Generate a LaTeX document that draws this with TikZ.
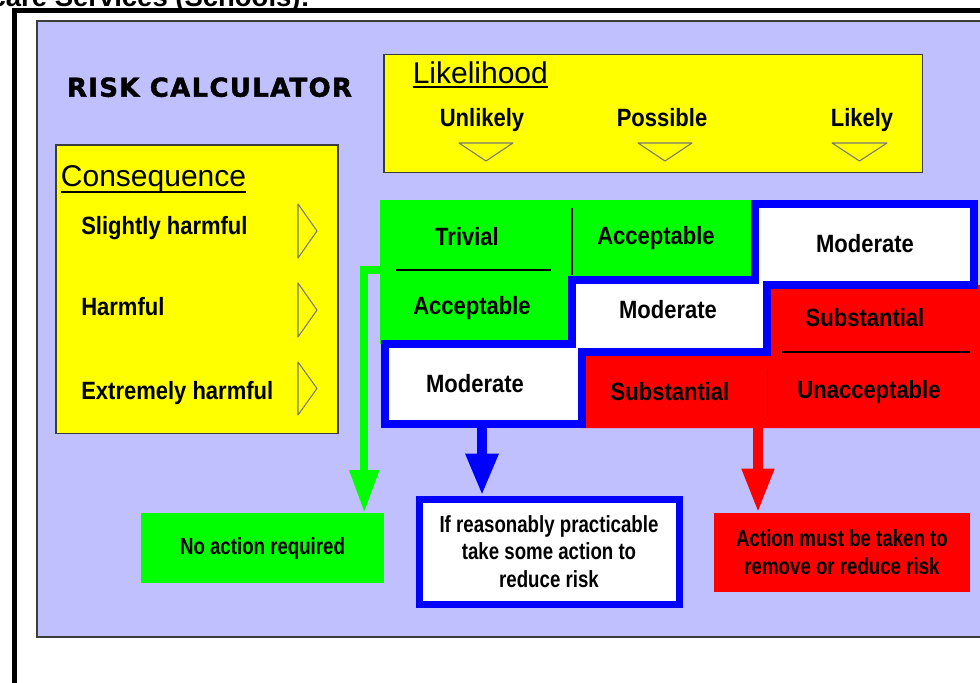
\documentclass[tikz,border=0pt]{standalone}
\usepackage{fontspec}
\setmainfont{Liberation Sans}
\newfontfamily\labfont[FakeStretch=0.88]{Liberation Sans}
\newfontfamily\condfont[FakeStretch=0.8]{Liberation Sans}
\newfontfamily\heavyfont[FakeBold=1.6,LetterSpace=5]{DejaVu Sans Bold}
\usetikzlibrary{arrows.meta,calc}
\definecolor{lav}{RGB}{192,192,255}
\definecolor{ylw}{RGB}{255,255,0}
\definecolor{grn}{RGB}{0,255,0}
\definecolor{rd}{RGB}{255,0,0}
\definecolor{blu}{RGB}{0,0,255}
\definecolor{edgegray}{RGB}{60,60,60}
\definecolor{trigray}{RGB}{120,120,120}
\begin{document}
\begin{tikzpicture}[x=0.75pt,y=-0.75pt,
  cell/.style={font=\labfont\bfseries\fontsize{18.75}{22}\selectfont, inner sep=0pt, anchor=base},
  clabel/.style={font=\labfont\bfseries\fontsize{18.75}{22}\selectfont, inner sep=0pt, anchor=base west},
  boxtitle/.style={font=\fontsize{22.5}{26}\selectfont, inner sep=0pt, anchor=base west},
  ybox/.style={fill=ylw, draw=edgegray, line width=1.1pt},
  tri/.style={draw=trigray, line width=0.8pt, line join=round},
  divider/.style={draw=black, line width=1.1pt},
  outcome/.style={font=\condfont\bfseries\fontsize{17.5}{20.8}\selectfont, align=center, inner sep=0pt},
  garr/.style={draw=grn, line width=6pt, line join=miter, -{Triangle[length=32pt,width=21pt]}},
  barr/.style={draw=blu, line width=7.5pt, -{Triangle[length=31.5pt,width=23pt]}},
  rarr/.style={draw=rd, line width=7.5pt, -{Triangle[length=33pt,width=22.5pt]}},
]
\useasboundingbox (0,0) rectangle (980,682);
\clip (0,0) rectangle (980,682);
\fill[white] (0,0) rectangle (980,682);

% clipped heading at the very top
\node[font=\bfseries\fontsize{20.6}{24}\selectfont, anchor=base east, inner sep=0pt] (hdr) at (310,6.5) {Childcare Services (Schools):};

% outer black frame
\draw[line width=3.75pt, line join=miter] (14.5,700) -- (14.5,10.5) -- (1000,10.5);

% lavender panel
\draw[fill=lav, draw=edgegray, line width=1.1pt] (37,21) rectangle (1000,637);

% title
\node[font=\heavyfont\fontsize{19.5}{22}\selectfont, inner sep=0pt, anchor=base] (rc) at (209.5,96.7) {RISK CALCULATOR};

% Likelihood box
\draw[ybox] (384,54.5) rectangle (922.5,172.5);
\node[boxtitle] (lh) at (412.5,83.3) {Likelihood};
\draw[line width=1.5pt] ([yshift=-3pt]lh.base west) -- ([yshift=-3pt]lh.base east);
\node[cell] (unl) at (482,126) {Unlikely};
\node[cell] (pos) at (662,126) {Possible};
\node[cell] (lik) at (862,126) {Likely};
\draw[tri] (459,143) -- (513,143) -- (486,161) -- cycle;
\draw[tri] (638,143) -- (692,143) -- (665,161) -- cycle;
\draw[tri] (832,143) -- (887,143) -- (859.5,161) -- cycle;

% Consequence box
\draw[ybox] (56,145) rectangle (338,433.5);
\node[boxtitle] (cq) at (60.7,186.7) {Consequence};
\draw[line width=1.5pt] ([yshift=-3.75pt]cq.base west) -- ([yshift=-3.75pt]cq.base east);
\node[clabel] (sh) at (81,234.3) {Slightly harmful};
\node[clabel] (hm) at (81,315.7) {Harmful};
\node[clabel] (eh) at (81,399) {Extremely harmful};
\draw[tri] (298,204) -- (317,231) -- (298,258) -- cycle;
\draw[tri] (298,283) -- (317,310) -- (298,337) -- cycle;
\draw[tri] (298,362) -- (317,388.5) -- (298,415) -- cycle;

% risk matrix regions
\fill[grn] (380,200) -- (755,200) -- (755,280) -- (572,280) -- (572,344) -- (380,344) -- cycle;
\fill[rd] (767,285) -- (1000,285) -- (1000,428) -- (582,428) -- (582,352) -- (767,352) -- cycle;
\draw[fill=white, draw=blu, line width=6pt, line join=miter]
  (755,204) -- (974,204) -- (974,285) -- (767,285) -- (767,352) -- (582,352)
  -- (582,424) -- (385,424) -- (385,344) -- (572,344) -- (572,280) -- (755,280) -- cycle;

% dividers
\draw[divider] (572,208) -- (572,275);
\draw[divider] (396,270) -- (551,270);
\draw[divider] (782,352) -- (970,352);
\draw[divider] (767.5,369) -- (767.5,417);

% matrix labels
\node[cell] (c00) at (467,245) {Trivial};
\node[cell] (c01) at (656,244) {Acceptable};
\node[cell] (c02) at (865,252) {Moderate};
\node[cell] (c10) at (472,314) {Acceptable};
\node[cell] (c11) at (668,318) {Moderate};
\node[cell] (c12) at (865,326) {Substantial};
\node[cell] (c20) at (475,392) {Moderate};
\node[cell] (c21) at (670,400) {Substantial};
\node[cell] (c22) at (869,398) {Unacceptable};

% outcome boxes
\node[outcome, fill=grn, minimum width=182.25pt, minimum height=52.5pt] (noact) at (262.5,548) {No action required};
\node[outcome, fill=white, draw=blu, line width=5.25pt, minimum width=195pt, minimum height=78.75pt] (maybe) at (549,551.5)
  {If reasonably practicable\\take some action to\\reduce risk};
\node[outcome, fill=rd, minimum width=192pt, minimum height=59.25pt] (must) at (842,552.5)
  {Action must be taken to\\remove or reduce risk};

% arrows
\coordinate (gs) at (381,270);
\coordinate (bs) at (482,428);
\coordinate (rs) at (758,428);
\draw[garr] (gs) -| ($(noact.north east)+(-20,0)$);
\draw[barr] (bs) -- (bs |- maybe.north);
\draw[rarr] (rs) -- (rs |- must.north);
\end{tikzpicture}
\end{document}
